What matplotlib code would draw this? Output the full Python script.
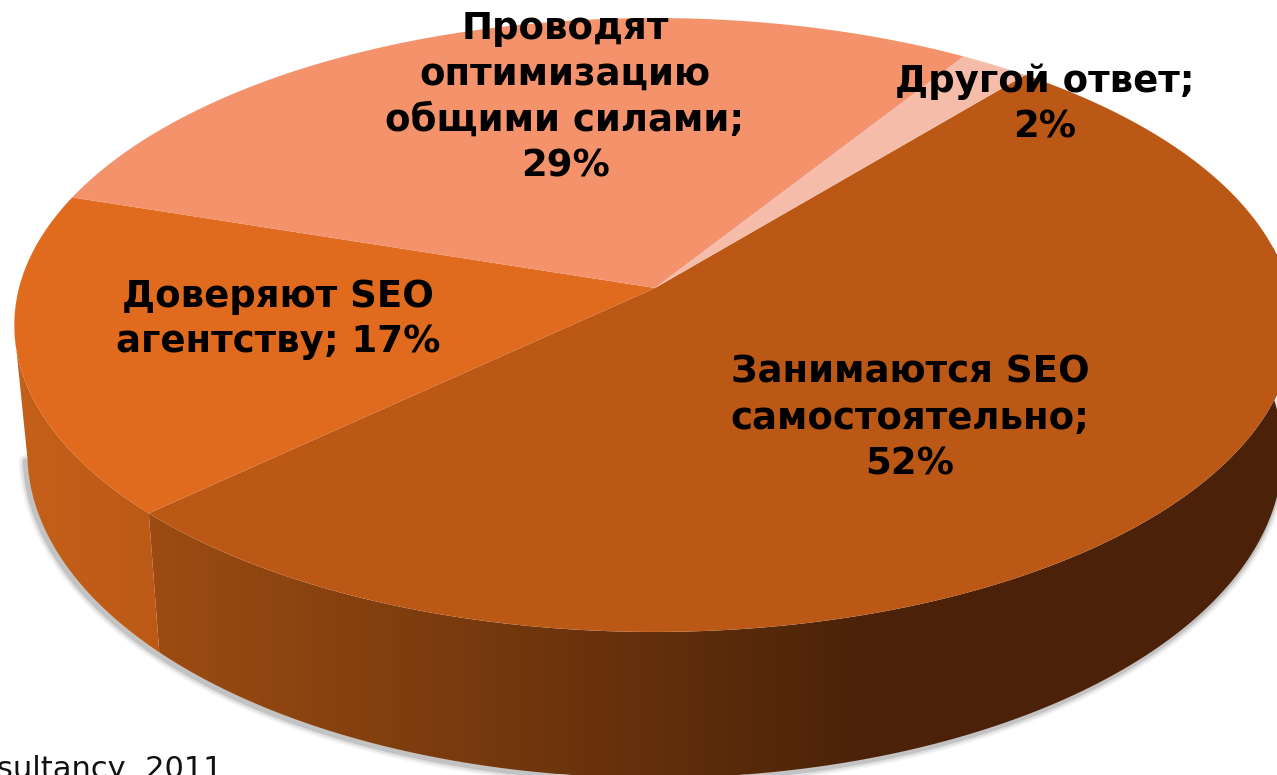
import matplotlib
matplotlib.use('Agg')
import matplotlib.pyplot as plt
import numpy as np
from matplotlib.patches import Polygon

# slices go clockwise starting from the big one
names = ['Занимаются SEO\nсамостоятельно;\n52%', 'Доверяют SEO\nагентству; 17%',
         'Проводят\nоптимизацию\nобщими силами;\n29%', 'Другой ответ;\n2%']
values = [52, 17, 29, 2]
colors = ['#BB5816', '#E06A1E', '#F4926C', '#F5BDA9']
label_pos = [(910, 418), (278, 319), (565, 97), (1045, 104)]
source = 'sultancy, 2011'

W, H = 1277, 775
START = 50.3
K = 0.1205  # perspective of the tilted disc


def top(theta):
    u, v = np.cos(np.radians(theta)), np.sin(np.radians(theta))
    w = 1 + K * v
    return 654 + 635 * u / w, 288 - 302.5 * v / w


def bottom(theta):
    u, v = np.cos(np.radians(theta)), np.sin(np.radians(theta))
    w = 1 + K * v
    return 655 + 623 * u / w, 414 - 320 * v / w


fig = plt.figure(figsize=(W / 100, H / 100), dpi=100)
ax = fig.add_axes([0, 0, 1, 1])

edges = START - np.cumsum([0] + values) / sum(values) * 360

# soft shadow under the rim
th = np.linspace(-172, 15, 300)
bx, by = bottom(th)
for lw, a in [(10, 0.06), (7, 0.10), (4, 0.18)]:
    ax.plot(bx - 2, by + 2, color='#404040', lw=lw, alpha=a, zorder=1, solid_capstyle='round')

# side wall as a horizontal gradient clipped to the rim shape
xs = np.linspace(0, W, 400)
f = np.clip((xs - 155) / (860 - 155), 0, 1)[:, None]
dark = np.array([0x9C, 0x4C, 0x12]) / 255 + (np.array([0x4B, 0x23, 0x09]) - np.array([0x9C, 0x4C, 0x12])) / 255 * f
g = np.clip(xs / 155, 0, 1)[:, None]
light = np.array([0xC6, 0x61, 0x1A]) / 255 + (np.array([0xBC, 0x59, 0x16]) - np.array([0xC6, 0x61, 0x1A])) / 255 * g
walls = [(edges[1], 8.0, dark), (-172.0, edges[1], light)]
for t1, t2, grad in walls:
    th = np.linspace(t1, t2, 200)
    tx, ty = top(th)
    bx, by = bottom(th[::-1])
    poly = Polygon(np.c_[np.r_[tx, bx], np.r_[ty, by]], closed=True, transform=ax.transData,
                   fc='none', ec='none')
    ax.add_patch(poly)
    im = ax.imshow(grad[None, :, :], extent=(0, W, H, 0), aspect='auto', zorder=2,
                   interpolation='bilinear')
    im.set_clip_path(poly)

# top face
for i in range(len(values)):
    th = np.linspace(edges[i + 1], edges[i], 200)
    x, y = top(th)
    ax.fill(np.r_[655, x], np.r_[288, y], color=colors[i], lw=0, zorder=3)

for name, (x, y) in zip(names, label_pos):
    ax.text(x, y, name, ha='center', va='center', fontsize=26.7, fontweight='bold',
            color='black', family='DejaVu Sans', linespacing=1.3, zorder=5)

ax.text(-3, 778, source, ha='left', va='baseline', fontsize=22, color='#111111',
        family='DejaVu Sans', zorder=5)

ax.set_xlim(0, W)
ax.set_ylim(H, 0)
ax.axis('off')

fig.savefig('out.png', dpi=100)
